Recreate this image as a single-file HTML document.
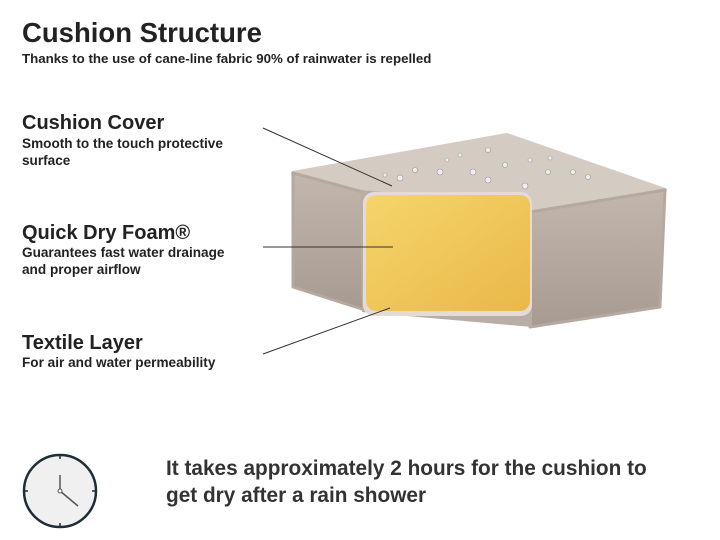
<!DOCTYPE html>
<html><head><meta charset="utf-8"><style>
body{margin:0;width:720px;height:540px;background:#fff;font-family:"Liberation Sans","DejaVu Sans",sans-serif;color:#222;position:relative;overflow:hidden}
.t{position:absolute;left:22px;white-space:nowrap}
.h{font-size:27.5px;font-weight:bold;top:17px}
.s{font-size:13.3px;font-weight:bold;top:51px}
.l{font-size:20px;font-weight:bold}
.d{font-size:13.6px;font-weight:bold;line-height:17px}
.b{position:absolute;left:166px;top:455px;font-size:20.8px;font-weight:bold;line-height:27px;color:#333}
</style></head><body>
<div class="t h">Cushion Structure</div>
<div class="t s">Thanks to the use of cane-line fabric 90% of rainwater is repelled</div>
<div class="t l" style="top:112px">Cushion Cover</div>
<div class="t d" style="top:135px">Smooth to the touch protective<br>surface</div>
<div class="t l" style="top:222px">Quick Dry Foam®</div>
<div class="t d" style="top:244px">Guarantees fast water drainage<br>and proper airflow</div>
<div class="t l" style="top:332px">Textile Layer</div>
<div class="t d" style="top:354px">For air and water permeability</div>
<div class="b">It takes approximately 2 hours for the cushion to<br>get dry after a rain shower</div>
<svg width="720" height="540" style="position:absolute;left:0;top:0">
<defs>
<linearGradient id="foam" x1="0" y1="0" x2="1" y2="1"><stop offset="0" stop-color="#f5d56a"/><stop offset="1" stop-color="#e9b84a"/></linearGradient>
<linearGradient id="side" x1="0" y1="0" x2="0" y2="1"><stop offset="0" stop-color="#c3b7ad"/><stop offset="1" stop-color="#a79a90"/></linearGradient>
</defs>
<polygon points="293,173 507,135 665,190 530,212 363,192" fill="#d4cbc3" stroke="#d4cbc3" stroke-width="4" stroke-linejoin="round"/>
<polygon points="293,173 363,192 365,310 293,287" fill="url(#side)" stroke="#b5a99f" stroke-width="3" stroke-linejoin="round"/>
<polygon points="530,212 665,190 660,307 530,327" fill="url(#side)" stroke="#b5a99f" stroke-width="3" stroke-linejoin="round"/>
<polygon points="360,190 532,206 532,327 362,312" fill="#b9aea5"/>
<rect x="363" y="192" width="169" height="124" rx="11" fill="#e4dcd4"/>
<rect x="366" y="195" width="164" height="116" rx="10" fill="url(#foam)"/>
<g fill="#eee" stroke="#999" stroke-width="0.6">
<circle cx="400" cy="178" r="3"/><circle cx="415" cy="170" r="2.5"/><circle cx="440" cy="172" r="3"/><circle cx="473" cy="172" r="3"/><circle cx="488" cy="180" r="3"/><circle cx="505" cy="165" r="2.5"/><circle cx="525" cy="186" r="3"/><circle cx="548" cy="172" r="2.5"/><circle cx="573" cy="172" r="2.5"/><circle cx="588" cy="177" r="2.5"/><circle cx="460" cy="155" r="2"/><circle cx="488" cy="150" r="2.5"/><circle cx="530" cy="160" r="2"/><circle cx="550" cy="158" r="2"/><circle cx="447" cy="160" r="2"/><circle cx="385" cy="175" r="2"/>
</g>
<g stroke="#333" stroke-width="1">
<line x1="263" y1="128" x2="392" y2="186"/>
<line x1="263" y1="247" x2="393" y2="247"/>
<line x1="263" y1="354" x2="390" y2="308"/>
</g>
<circle cx="60" cy="491" r="36" fill="#f0f0f0" stroke="#1e2e38" stroke-width="2.5"/>
<g stroke="#1e2e38" stroke-width="1.5">
<line x1="60" y1="455" x2="60" y2="459"/><line x1="60" y1="523" x2="60" y2="527"/><line x1="24" y1="491" x2="28" y2="491"/><line x1="92" y1="491" x2="96" y2="491"/>
</g>
<line x1="60" y1="491" x2="60" y2="475" stroke="#555" stroke-width="1.5"/>
<line x1="60" y1="491" x2="78" y2="506" stroke="#555" stroke-width="1.5"/>
<circle cx="60" cy="491" r="2" fill="#fff" stroke="#555"/>
</svg>
</body></html>
